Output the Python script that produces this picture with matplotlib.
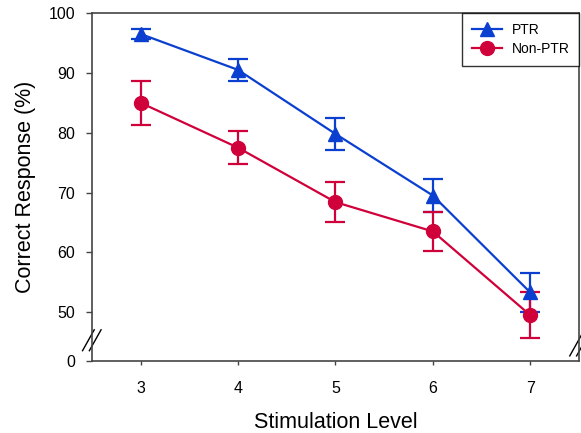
import matplotlib
matplotlib.use("Agg")
import matplotlib.pyplot as plt
from matplotlib.lines import Line2D

plt.rcParams['font.family'] = ['Liberation Sans', 'DejaVu Sans']

# stimulation levels
levels = [3, 4, 5, 6, 7]

# PTR group
ptr_mean = [96.5, 90.5, 79.8, 69.5, 53.3]
ptr_err = [0.8, 1.8, 2.7, 2.8, 3.3]

# Non-PTR group
non_mean = [85.0, 77.5, 68.4, 63.5, 49.5]
non_err = [3.7, 2.8, 3.4, 3.2, 3.8]

ytick_vals = [50, 60, 70, 80, 90, 100]
zero_pos = 41.83  # where the "0" tick sits below the axis break

blue = '#0a3fd0'
red = '#d0003a'

fig = plt.figure(figsize=(5.81, 4.33), dpi=100)
ax = fig.add_axes([0.158, 0.166, 0.8386, 0.804])

ax.errorbar(levels, ptr_mean, yerr=ptr_err, color=blue, marker='^', markersize=10,
            linewidth=1.6, elinewidth=1.6, capsize=7, capthick=1.6, zorder=3)
ax.errorbar(levels, non_mean, yerr=non_err, color=red, marker='o', markersize=10,
            linewidth=1.6, elinewidth=1.6, capsize=7, capthick=1.6, zorder=3)

ax.set_xlim(2.5, 7.5)
ax.set_ylim(zero_pos, 100)
ax.set_xticks(levels)
ax.set_yticks([zero_pos] + ytick_vals)
ax.set_yticklabels(['0'] + [str(v) for v in ytick_vals])
ax.tick_params(direction='out', length=4, width=1, labelsize=11.5, color='#444444')
ax.tick_params(axis='x', pad=11, length=3)
ax.tick_params(axis='y', pad=8)

for s in ax.spines.values():
    s.set_color('#444444')
    s.set_linewidth(1.2)

ax.set_xlabel('Stimulation Level', fontsize=15.5, labelpad=12)
ax.set_ylabel('Correct Response (%)', fontsize=15.5, labelpad=9)

# axis break marks (double slash) on left and right spines
for xa, yb in [(0.0, 0.06), (1.0, 0.045)]:
    for dx in (-0.007, 0.007):
        ax.plot([xa - 0.012 + dx, xa + 0.012 + dx], [yb - 0.03, yb + 0.03],
                transform=ax.transAxes, color='black', linewidth=1, clip_on=False)

handles = [Line2D([], [], color=blue, marker='^', markersize=10, linewidth=1.6),
           Line2D([], [], color=red, marker='o', markersize=10, linewidth=1.6)]
leg = ax.legend(handles, ['PTR', 'Non-PTR'], loc='upper right', fontsize=10,
                frameon=True, fancybox=False, borderaxespad=0, handlelength=2.2,
                borderpad=0.7, labelspacing=0.4, handletextpad=0.65)
leg.get_frame().set_edgecolor('black')
leg.get_frame().set_linewidth(1)

fig.savefig('out.png', dpi=100)
